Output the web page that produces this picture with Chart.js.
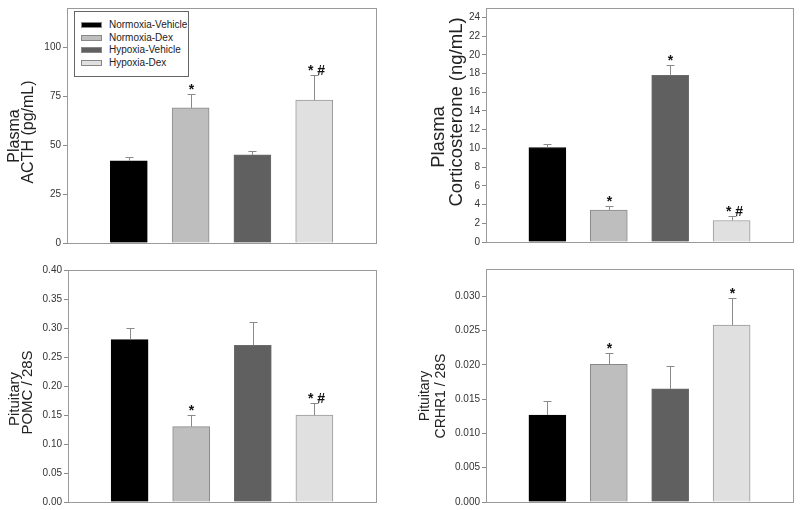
<!DOCTYPE html>
<html>
<head>
<meta charset="utf-8">
<script src="https://cdn.jsdelivr.net/npm/chart.js@4/dist/chart.umd.min.js"></script>
<style>
  body { margin: 0; background: #fff; }
  #page { position: relative; width: 800px; height: 510px; overflow: hidden; }
  .panel { position: absolute; width: 400px; height: 255px; }
  #leyenda {
    position: absolute; left: 74px; top: 11px; width: 113px; height: 64px;
    border: 1px solid #666; background: #fff;
    font: 10px "Liberation Sans", Arial, sans-serif; color: #222;
  }
  .fila { position: absolute; left: 6px; height: 12px; line-height: 12px; }
  .muestra { position: absolute; left: 0; top: 3px; width: 21px; height: 6px; border: 1px solid #888; box-sizing: border-box; }
  .texto { position: absolute; left: 28px; top: 0; white-space: nowrap; }
</style>
</head>
<body>
<div id="page">
  <div class="panel" style="left:0;top:0"><canvas id="grafico-acth" width="400" height="255"></canvas></div>
  <div class="panel" style="left:400px;top:0"><canvas id="grafico-cortico" width="400" height="255"></canvas></div>
  <div class="panel" style="left:0;top:255px"><canvas id="grafico-pomc" width="400" height="255"></canvas></div>
  <div class="panel" style="left:400px;top:255px"><canvas id="grafico-crhr1" width="400" height="255"></canvas></div>
  <div id="leyenda"></div>
</div>
<script>
// datos
const grupos = ["Normoxia-Vehicle", "Normoxia-Dex", "Hypoxia-Vehicle", "Hypoxia-Dex"];
const coloresGrupos = ["#000000", "#bebebe", "#606060", "#e0e0e0"];

const acthMedia = [42, 69, 45, 73];
const acthError = [2, 7, 2, 13];
const acthMarcas = ["", "*", "", "* #"];
const acthTicks = [0, 25, 50, 75, 100];

const corticoMedia = [10.1, 3.4, 17.8, 2.3];
const corticoError = [0.4, 0.4, 1.1, 0.5];
const corticoMarcas = ["", "*", "*", "* #"];
const corticoTicks = [0, 2, 4, 6, 8, 10, 12, 14, 16, 18, 20, 22, 24];

const pomcMedia = [0.28, 0.13, 0.27, 0.15];
const pomcError = [0.02, 0.02, 0.04, 0.02];
const pomcMarcas = ["", "*", "", "* #"];
const pomcTicks = [0, 0.05, 0.10, 0.15, 0.20, 0.25, 0.30, 0.35, 0.40];

const crhMedia = [0.0127, 0.0201, 0.0165, 0.0258];
const crhError = [0.0021, 0.0016, 0.0034, 0.0040];
const crhMarcas = ["", "*", "", "*"];
const crhTicks = [0, 0.005, 0.010, 0.015, 0.020, 0.025, 0.030];

const fuente = '"Liberation Sans", Arial, sans-serif';

/* =========================
   LEYENDA
   ========================= */
const leyenda = document.getElementById("leyenda");
grupos.forEach((nombre, i) => {
    const fila = document.createElement("div");
    fila.className = "fila";
    fila.style.top = (7 + i * 12.6) + "px";
    fila.innerHTML = '<span class="muestra" style="background:' + coloresGrupos[i] + '"></span>' +
        '<span class="texto">' + nombre + '</span>';
    leyenda.appendChild(fila);
});

/* =========================
   PLUGINS: MARCO, ERRORES, TITULO
   ========================= */
const pluginMarco = {
    id: "marco",
    afterDraw(chart) {
        const a = chart.chartArea;
        const ctx = chart.ctx;
        ctx.save();
        ctx.strokeStyle = "#9a9a9a";
        ctx.lineWidth = 1;
        ctx.strokeRect(Math.round(a.left) + 0.5, Math.round(a.top) + 0.5,
            Math.round(a.right - a.left), Math.round(a.bottom - a.top));
        ctx.restore();
    }
};

const pluginErrores = {
    id: "errores",
    afterDatasetsDraw(chart, args, opts) {
        const ctx = chart.ctx;
        const x = chart.scales.x;
        const y = chart.scales.y;
        ctx.save();
        opts.medias.forEach((m, i) => {
            const px = Math.round(x.getPixelForValue(i + 1)) + 0.5;
            const y0 = y.getPixelForValue(m);
            const y1 = Math.round(y.getPixelForValue(m + opts.errores[i])) + 0.5;
            ctx.strokeStyle = "#8a8a8a";
            ctx.lineWidth = 1;
            ctx.beginPath();
            ctx.moveTo(px, y0);
            ctx.lineTo(px, y1);
            ctx.moveTo(px - 4, y1);
            ctx.lineTo(px + 4, y1);
            ctx.stroke();
            if (opts.marcas[i]) {
                ctx.fillStyle = "#111";
                ctx.font = "bold 14px " + fuente;
                ctx.textAlign = "center";
                ctx.textBaseline = "alphabetic";
                ctx.fillText(opts.marcas[i], px + (opts.marcas[i].length > 1 ? 2 : 0), y1 - 1);
            }
        });
        ctx.restore();
    }
};

// titulo del eje y en dos lineas, cada una con su propia posicion
const pluginTitulo = {
    id: "tituloEje",
    afterDraw(chart, args, opts) {
        const ctx = chart.ctx;
        ctx.save();
        ctx.fillStyle = "#222";
        ctx.font = opts.tamano + "px " + fuente;
        ctx.textAlign = "center";
        ctx.textBaseline = "middle";
        opts.lineas.forEach((texto, i) => {
            ctx.save();
            ctx.translate(opts.xs[i], opts.ys[i]);
            ctx.rotate(-Math.PI / 2);
            ctx.fillText(texto, 0, 0);
            ctx.restore();
        });
        ctx.restore();
    }
};

/* =========================
   CONSTRUIR PANEL
   ========================= */
function construirPanel(idCanvas, titulo, medias, errores, marcas, ticks, maximo, decimales, anchoEje, relleno) {
    const contexto = document.getElementById(idCanvas).getContext("2d");
    return new Chart(contexto, {
        type: "bar",
        data: {
            datasets: [{
                data: medias.map((v, i) => ({ x: i + 1, y: v })),
                backgroundColor: coloresGrupos,
                borderColor: ["#000000", "#8a8a8a", "#6a6a6a", "#9a9a9a"],
                borderWidth: 1,
                barThickness: 37
            }]
        },
        options: {
            responsive: false,
            animation: false,
            layout: { padding: relleno },
            plugins: {
                legend: { display: false },
                tooltip: { enabled: false },
                errores: { medias: medias, errores: errores, marcas: marcas },
                tituloEje: titulo
            },
            scales: {
                x: { type: "linear", min: 0, max: 5, offset: false, display: false },
                y: {
                    min: 0,
                    max: maximo,
                    afterFit: escala => { escala.width = anchoEje; },
                    afterBuildTicks: escala => { escala.ticks = ticks.map(v => ({ value: v })); },
                    ticks: {
                        callback: v => v.toFixed(decimales),
                        font: { family: fuente, size: 10 },
                        color: "#333",
                        padding: 2
                    },
                    grid: { drawOnChartArea: false, tickLength: 4, color: "#8a8a8a" },
                    border: { display: false }
                }
            }
        },
        plugins: [pluginMarco, pluginErrores, pluginTitulo]
    });
}

construirPanel("grafico-acth",
    { lineas: ["Plasma", "ACTH (pg/mL)"], tamano: 16, xs: [14.5, 28.5], ys: [136, 132] },
    acthMedia, acthError, acthMarcas, acthTicks, 120, 0, 67, { left: 0, right: 24, top: 7, bottom: 12 });
construirPanel("grafico-cortico",
    { lineas: ["Plasma", "Corticosterone (ng/mL)"], tamano: 18.5, xs: [38.5, 56.5], ys: [137, 112] },
    corticoMedia, corticoError, corticoMarcas, corticoTicks, 25, 0, 86, { left: 0, right: 7, top: 7, bottom: 13 });
construirPanel("grafico-pomc",
    { lineas: ["Pituitary", "POMC / 28S"], tamano: 15, xs: [14.5, 28], ys: [144, 137.5] },
    pomcMedia, pomcError, pomcMarcas, pomcTicks, 0.40, 2, 68, { left: 0, right: 24, top: 15, bottom: 8 });
construirPanel("grafico-crhr1",
    { lineas: ["Pituitary", "CRHR1 / 28S"], tamano: 14, xs: [25.5, 41.5], ys: [141, 141] },
    crhMedia, crhError, crhMarcas, crhTicks, 0.034, 3, 86, { left: 0, right: 7, top: 14, bottom: 6 });
</script>
</body>
</html>
